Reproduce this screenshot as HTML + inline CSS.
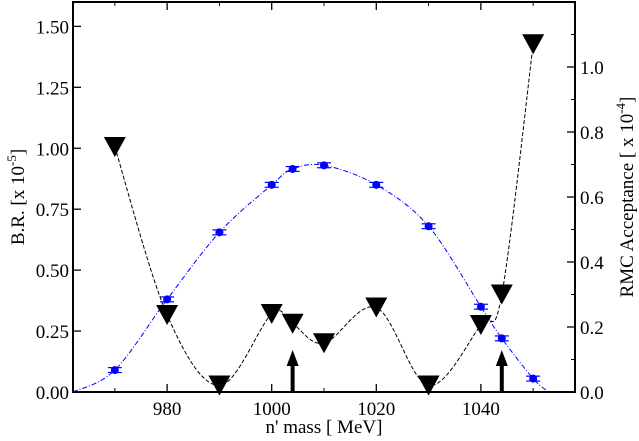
<!DOCTYPE html>
<html><head><meta charset="utf-8"><style>
html,body{margin:0;padding:0;background:#fff}
text{font-family:"Liberation Serif",serif;fill:#000}
</style></head><body>
<svg id="chart" width="639" height="436" viewBox="0 0 639 436" xmlns="http://www.w3.org/2000/svg">
<g id="g"></g>
</svg>
<script>
const massCats=[970,980,990,1000,1004,1010,1020,1030,1040,1044,1050];
const brValues=[0.09,0.38,0.655,0.85,0.915,0.93,0.85,0.68,0.35,0.22,0.055];
const brErrors=[0.01,0.01,0.01,0.01,0.01,0.01,0.01,0.01,0.01,0.01,0.01];
const accValues=[0.754,0.237,0.02,0.24,0.21,0.15,0.26,0.02,0.206,0.30,1.07];
const brFitX=[962,970,980,990,1000,1004,1010,1020,1030,1040,1044,1050,1053];
const brFitY=[0,0.09,0.38,0.655,0.85,0.915,0.93,0.85,0.68,0.35,0.22,0.055,0];
const arrowX=[1004,1044];
const xTicks=[980,1000,1020,1040];
const xMinor=[970,990,1010,1030,1050];
const yLeftTicks=[0,0.25,0.5,0.75,1,1.25,1.5];
const yLeftLabels=["0.00","0.25","0.50","0.75","1.00","1.25","1.50"];
const yRightTicks=[0,0.2,0.4,0.6,0.8,1.0];
const yRightLabels=["0.0","0.2","0.4","0.6","0.8","1.0"];
const yRightMinor=[0.1,0.3,0.5,0.7,0.9,1.1];

const L=73,R=575,T=2,B=392;
const X=v=>L+(v-962)/(1058-962)*(R-L);
const YL=v=>B-v/1.6*(B-T);
const YR=v=>B-v/1.2*(B-T);
const NS="http://www.w3.org/2000/svg";
const g=document.getElementById('g');
function mk(t,a,txt){const e=document.createElementNS(NS,t);for(const k in a)e.setAttribute(k,a[k]);if(txt!==undefined)e.textContent=txt;g.appendChild(e);return e;}
function spline(pts){let d=`M${pts[0][0]},${pts[0][1]}`;for(let i=0;i<pts.length-1;i++){const p0=pts[Math.max(0,i-1)],p1=pts[i],p2=pts[i+1],p3=pts[Math.min(pts.length-1,i+2)];d+=` C${p1[0]+(p2[0]-p0[0])/6},${p1[1]+(p2[1]-p0[1])/6} ${p2[0]-(p3[0]-p1[0])/6},${p2[1]-(p3[1]-p1[1])/6} ${p2[0]},${p2[1]}`;}return d;}

let e=mk('path',{d:spline(brFitX.map((x,i)=>[X(x),YL(brFitY[i])])),fill:'none',stroke:'#0000ff','stroke-width':1,'stroke-dasharray':'5,2,1,2'});

e=mk('path',{d:spline(massCats.map((x,i)=>[X(x),YR(accValues[i])])),fill:'none',stroke:'#000','stroke-width':1,'stroke-dasharray':'4,2'});


massCats.forEach((m,i)=>{const x=X(m),y=YL(brValues[i]);
 const gr=mk('g',{});
 const yt=YL(brValues[i]+brErrors[i]),yb=YL(brValues[i]-brErrors[i]);
 [yt,yb].forEach(yy=>{const c=document.createElementNS(NS,'line');c.setAttribute('x1',x-7);c.setAttribute('x2',x+7);c.setAttribute('y1',yy);c.setAttribute('y2',yy);c.setAttribute('stroke','#0000ff');c.setAttribute('stroke-width',1.2);gr.appendChild(c);});
 const c=document.createElementNS(NS,'circle');c.setAttribute('cx',x);c.setAttribute('cy',y);c.setAttribute('r',4);c.setAttribute('fill','#0000ff');gr.appendChild(c);
});
massCats.forEach((m,i)=>{const x=X(m),y=YR(accValues[i]);
 const t=mk('polygon',{points:`${x-11},${y-10} ${x+11},${y-10} ${x},${y+10}`,fill:'#000'});
 });
arrowX.forEach(m=>{const x=X(m);
 const a=mk('path',{d:`M${x-2},${B} L${x-2},${B-26} L${x-6},${B-26} L${x},${B-42} L${x+6},${B-26} L${x+2},${B-26} L${x+2},${B} Z`,fill:'#000'});
 });

e=mk('rect',{x:L,y:T,width:R-L,height:B-T,fill:'none',stroke:'#000','stroke-width':2});

xTicks.forEach(v=>{const x=X(v);mk('line',{x1:x,x2:x,y1:B,y2:B-8,stroke:'#000','stroke-width':1.3});mk('line',{x1:x,x2:x,y1:T,y2:T+8,stroke:'#000','stroke-width':1.3});
 const t=mk('text',{x:x,y:B+23,'text-anchor':'middle','font-size':19},String(v));});
xMinor.forEach(v=>{const x=X(v);mk('line',{x1:x,x2:x,y1:B,y2:B-4,stroke:'#000'});mk('line',{x1:x,x2:x,y1:T,y2:T+4,stroke:'#000'});});
yLeftTicks.forEach((v,i)=>{const y=YL(v);mk('line',{x1:L,x2:L+8,y1:y,y2:y,stroke:'#000','stroke-width':1.3});
 const t=mk('text',{x:L-4,y:y+7,'text-anchor':'end','font-size':19},yLeftLabels[i]);});
yRightTicks.forEach((v,i)=>{const y=YR(v);mk('line',{x1:R,x2:R-8,y1:y,y2:y,stroke:'#000','stroke-width':1.3});
 const t=mk('text',{x:R+5,y:y+7,'text-anchor':'start','font-size':19},yRightLabels[i]);});
yRightMinor.forEach(v=>{const y=YR(v);mk('line',{x1:R,x2:R-4,y1:y,y2:y,stroke:'#000'});});

e=mk('text',{x:(L+R)/2,y:433,'text-anchor':'middle','font-size':19},"n' mass [ MeV]");

e=mk('text',{transform:'translate(24,197) rotate(-90)','text-anchor':'middle','font-size':19});
e.innerHTML='B.R. [x 10<tspan dy="-8" font-size="13">-5</tspan><tspan dy="8">]</tspan>';

e=mk('text',{transform:'translate(633,197) rotate(-90)','text-anchor':'middle','font-size':19});
e.innerHTML='RMC Acceptance [ x 10<tspan dy="-8" font-size="13">-4</tspan><tspan dy="8">]</tspan>';

</script>
</body></html>
